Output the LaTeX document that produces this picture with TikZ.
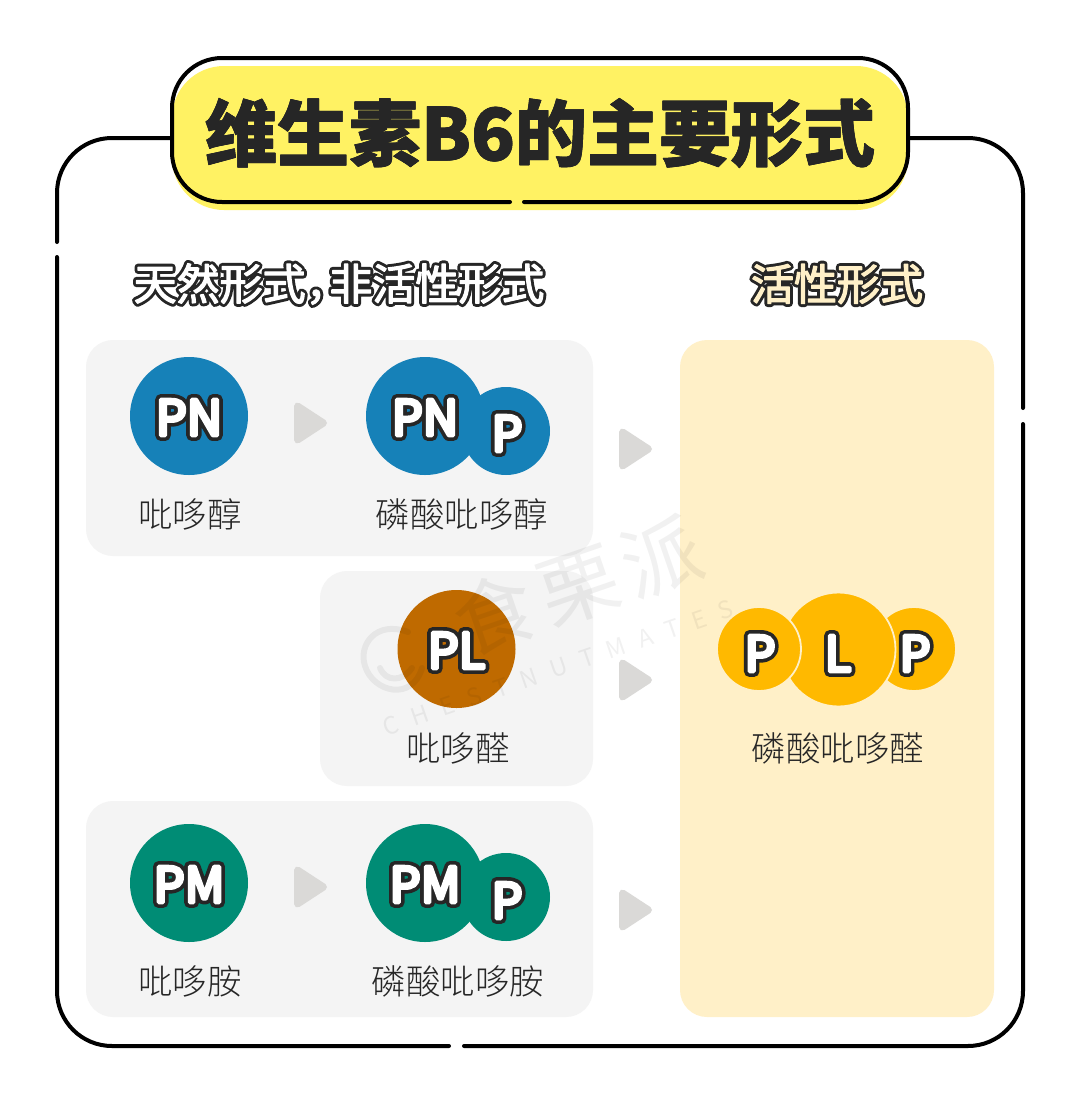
\documentclass[tikz,border=0pt]{standalone}
\usepackage{fontspec}
\usetikzlibrary{calc}
\setmainfont{Noto Sans CJK SC}
\newfontfamily\thincjk{Noto Sans CJK SC Light}
\definecolor{inkc}{HTML}{262626}
\definecolor{yelc}{HTML}{FFF263}
\definecolor{grayc}{HTML}{F4F4F4}
\definecolor{creamc}{HTML}{FFF0C8}
\definecolor{bluec}{HTML}{1681B8}
\definecolor{brownc}{HTML}{BF6A00}
\definecolor{greenc}{HTML}{008C75}
\definecolor{goldc}{HTML}{FFB900}
\definecolor{arrc}{HTML}{DAD9D7}
% text with a stroked outline: #1 outline width, #2 inner stroke, #3 fill colour, #4 text
\newcommand{\outl}[4]{\leavevmode\rlap{\special{pdf:code q 1 j 1 J #1 w 2 Tr 0.15 g 0.15 G}#4\special{pdf:code Q}}\textcolor{#3}{\special{pdf:code q 1 j 1 J #2 w 2 Tr}#4\special{pdf:code Q}}}
\tikzset{
	panel/.style={fill=grayc,rounded corners=27},
	bubble/.style={circle,inner sep=0,minimum size=118,fill=#1},
	subbubble/.style={circle,inner sep=0,minimum size=88,fill=#1},
	goldball/.style={circle,inner sep=0,minimum size=#1,fill=goldc,draw=creamc,line width=1.8},
	lbl/.style={inner sep=0,font=\fontsize{34.5}{34.5}\selectfont\thincjk,text=inkc},
	head/.style={inner sep=0,font=\fontsize{43}{43}\selectfont},
	letter/.style={inner sep=0,yshift=-1.5pt,font=\fontsize{49}{49}\selectfont},
	tri/.style={fill=arrc,draw=arrc,line width=7,line join=round},
	wmark/.style={inner sep=0,text=black,opacity=.055,rotate=19}
}
\begin{document}
\begin{tikzpicture}[x=1pt,y=-1pt,line join=round,line cap=round]
	\useasboundingbox (0,0) rectangle (1080,1103);
	\fill[white] (0,0) rectangle (1080,1103);
	% frame
	\draw[line width=4,rounded corners=55]
	(57,242)--(57,138)--(1023,138)--(1023,408)
	;
	\draw[line width=4,rounded corners=55]
	(1023,424)--(1023,1046)--(464,1046)
	(449,1046)--(57,1046)--(57,257)
	;
	% title box
	\fill[white,rounded corners=50] (172,58) rectangle (908,202);
	\fill[yelc,rounded corners=52]
	(172,66) rectangle (908,210)
	;
	\draw[line width=4,rounded corners=50]
	(510,202)--(172,202)--(172,58)--(908,58)--(908,202)--(524,202)
	;
	\node[inner sep=0] (title) at (540,133)
	{\fontsize{72}{72}\selectfont\bfseries\outl{.8}{.8}{inkc}{维生素B6的主要形式}};
	% headings
	\node[head] (headA) at (339,284) {\outl{7}{1.2}{white}{天然形式，\hspace{-.45em}非活性形式}};
	\node[head] (headB) at (837,284) {\outl{7}{1.2}{creamc}{活性形式}};
	% panels
	\fill[panel] (86,340) rectangle (593,556);
	\fill[panel] (320,571) rectangle (593,786);
	\fill[panel] (86,801) rectangle (593,1017);
	\fill[creamc,rounded corners=27] (680,340) rectangle (994,1017);
	% arrows
	\foreach \ax/\ay in {297/423,622/449,622/680,297/887,622/910}
	\draw[tri] (\ax+.5,\ay-17)--(\ax+26.5,\ay)--(\ax+.5,\ay+17)--cycle;
	% PN row
	\node[bubble=bluec] (pn) at (189,416) {};
	\node[bubble=bluec] (pnb) at (425,416) {};
	\node[subbubble=bluec] (pnp) at (506,431) {};
	\node[letter] (pnt) at (pn) {\outl{11}{3.6}{white}{PN}};
	\node[letter] (pnbt) at (pnb) {\outl{11}{3.6}{white}{PN}};
	\node[letter] (pnpt) at (507,432) {\outl{11}{3.6}{white}{P}};
	\node[lbl] (pnl) at (190,514) {吡哆醇};
	\node[lbl] (pnpl) at (462,514) {磷酸吡哆醇};
	% PL row
	\node[bubble=brownc] (pl) at (456.5,649) {};
	\node[letter] (plt) at (pl) {\outl{11}{3.6}{white}{PL}};
	\node[lbl] (pll) at (458,748) {吡哆醛};
	% PM row
	\node[bubble=greenc] (pm) at (189,883) {};
	\node[bubble=greenc] (pmb) at (425,883) {};
	\node[subbubble=greenc] (pmp) at (506,897) {};
	\node[letter] (pmt) at (pm) {\outl{11}{3.6}{white}{PM}};
	\node[letter] (pmbt) at (pmb) {\outl{11}{3.6}{white}{PM}};
	\node[letter] (pmpt) at (507,899) {\outl{11}{3.6}{white}{P}};
	\node[lbl] (pml) at (190,981) {吡哆胺};
	\node[lbl] (pmpl) at (458,981) {磷酸吡哆胺};
	% PLP
	\node[goldball=84] (plpr) at (914,649) {};
	\node[goldball=114] (plpm) at (838.5,649.5) {};
	\node[goldball=84] (plpl) at (759,649) {};
	\node[letter] (plpa) at (760,652) {\outl{11}{3.6}{white}{P}};
	\node[letter] (plpb) at (838,652) {\outl{11}{3.6}{white}{L}};
	\node[letter] (plpc) at (915,652) {\outl{11}{3.6}{white}{P}};
	\node[lbl] (plpt) at (838,748) {磷酸吡哆醛};
	% watermark
	\node[wmark,font=\fontsize{80}{80}\selectfont] (wmz) at (578,585) {食\hspace{.1em}栗\hspace{.1em}派};
	\node[wmark,font=\fontsize{24}{24}\selectfont] (wme) at (558,668) {C\hspace{.58em}H\hspace{.58em}E\hspace{.58em}S\hspace{.58em}T\hspace{.58em}N\hspace{.58em}U\hspace{.58em}T\hspace{.58em}M\hspace{.58em}A\hspace{.58em}T\hspace{.58em}E\hspace{.58em}S};
	\draw[black,opacity=.055,line width=6] (408,632) .. controls (376,620) and (358,645) .. (365,666) .. controls (373,692) and (412,702) .. (422,668);
	\draw[black,opacity=.055,line width=6] (380,668) .. controls (386,682) and (402,682) .. (412,668);
\end{tikzpicture}
\end{document}
